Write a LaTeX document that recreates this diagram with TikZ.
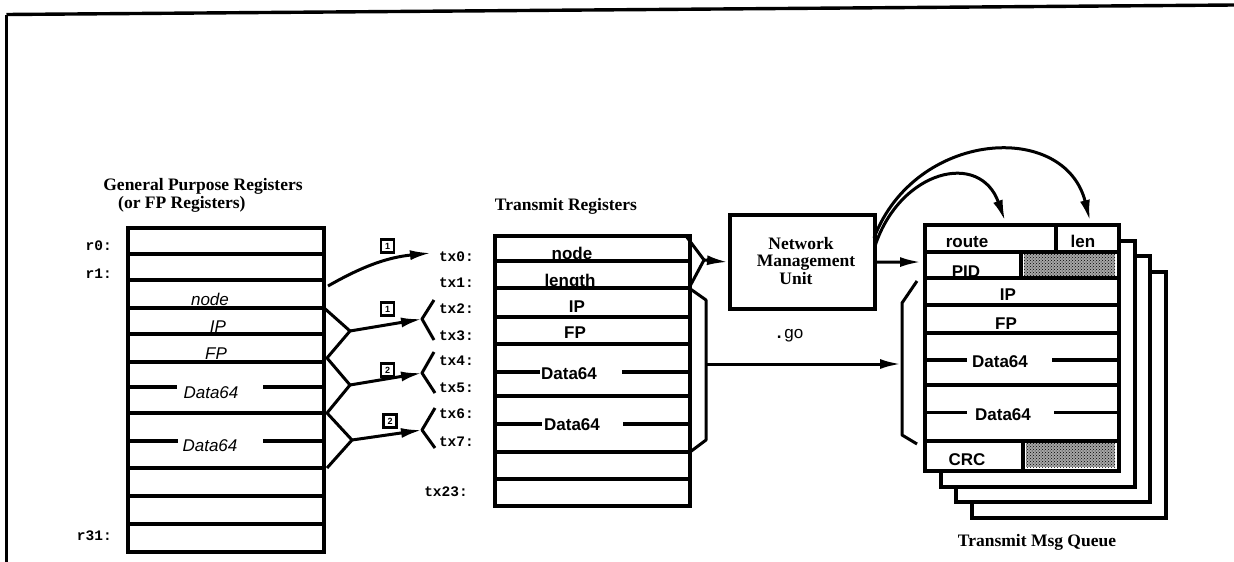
\documentclass[tikz,border=0pt]{standalone}
\usepackage{fontspec}
\setmainfont{Liberation Serif}
\setsansfont{Liberation Sans}
\setmonofont{Liberation Mono}
\usetikzlibrary{arrows.meta,patterns}
\begin{document}
\begin{tikzpicture}[x=1pt,y=-1pt,
 box/.style={draw,line width=4.2pt,inner sep=0pt,anchor=north west,fill=white},
 row/.style={line width=3.4pt},
 conn/.style={line width=3pt,line join=round},
 arr/.style={conn,-{Latex[length=21pt,width=10pt]}},
 lab/.style={font=\fontsize{17}{18}\selectfont\sffamily\bfseries,inner sep=0pt,anchor=base},
 ilab/.style={font=\fontsize{17}{18}\selectfont\sffamily\itshape,inner sep=0pt,anchor=base},
 reg/.style={font=\fontsize{14.5}{15}\selectfont\ttfamily\bfseries,inner sep=0pt,anchor=base east},
 ttl/.style={font=\fontsize{17.5}{19}\selectfont\rmfamily\bfseries,inner sep=0pt,anchor=base},
 num/.style={draw,line width=2.2pt,minimum size=13pt,inner sep=0pt,font=\fontsize{9}{9}\selectfont\sffamily\bfseries},
 hatch/.style={pattern=crosshatch dots,pattern color=black},
]
\useasboundingbox (0,0) rectangle (1234,562);
\fill[white] (0,0) rectangle (1234,562);
% frame
\coordinate (fa) at (6.5,562); \coordinate (fb) at (6.5,14.5); \coordinate (fc) at (1234,5);
\draw[line width=2.4pt] (fa) -- (fb);
\draw[line width=3.4pt] (fb) -- (fc);

% ---------------- General purpose registers ----------------
\node[ttl] (gt1) at (203,190) {General Purpose Registers};
\node[ttl,anchor=base west] (gt2) at (118,208) {(or FP Registers)};
\node[box,minimum width=196pt,minimum height=324pt] (gpr) at (126,226) {};
\foreach \y in {254,280,308,334,362,413,468,496,524} \draw[row] (126,\y) -- (322,\y);
\draw[row] (126,387) -- (177,387);  \draw[row] (263,387) -- (322,387);
\draw[row] (126,441) -- (178,441);  \draw[row] (263,441) -- (322,441);
\node[reg] (r0) at (112,250.5) {r0:};
\node[reg] (r1) at (112,278) {r1:};
\node[reg] (r31) at (112,540.5) {r31:};
\node[ilab] (gnode) at (210,305) {node};
\node[ilab] (gip) at (218,332) {IP};
\node[ilab] (gfp) at (216,359) {FP};
\node[ilab] (gd1) at (211,398) {Data64};
\node[ilab] (gd2) at (210,451) {Data64};

% ---------------- Transmit registers ----------------
\node[ttl] (tt) at (566,210) {Transmit Registers};
\node[box,minimum width=195pt,minimum height=270pt] (tx) at (493,234) {};
\foreach \y in {261,288,317,344,396,452,479} \draw[row] (493,\y) -- (688,\y);
\draw[row] (493,372) -- (540,372);  \draw[row] (622,372) -- (688,372);
\draw[row] (493,424) -- (542,424);  \draw[row] (623,424) -- (688,424);
\node[lab] (tnode) at (572,259) {node};
\node[lab] (tlen) at (570,286.5) {length};
\node[lab] (tip) at (577,312) {IP};
\node[lab] (tfp) at (575,338) {FP};
\node[lab] (td1) at (569,379) {Data64};
\node[lab] (td2) at (572,430) {Data64};
\node[reg] (x0) at (474,261.5) {tx0:};
\node[reg] (x1) at (474,287) {tx1:};
\node[reg] (x2) at (474,313) {tx2:};
\node[reg] (x3) at (474,340.5) {tx3:};
\node[reg] (x4) at (474,365) {tx4:};
\node[reg] (x5) at (474,392.5) {tx5:};
\node[reg] (x6) at (474,418) {tx6:};
\node[reg] (x7) at (474,446) {tx7:};
\node[reg] (x23) at (468,496.5) {tx23:};

% ---------------- GPR -> TX connectors ----------------
\coordinate (a0) at (328,286); \coordinate (t0) at (431,253);
\draw[arr] (a0) to[bend left=12] (t0);
\node[num] (n1) at (387.5,246) {1};

\coordinate (z1) at (323,307); \coordinate (j1) at (350,331);
\coordinate (z2) at (327,358); \coordinate (j2) at (350,385);
\coordinate (z3) at (327,413); \coordinate (j3) at (352,440);
\coordinate (z4) at (327,468);
\draw[conn] (z1) -- (j1) -- (z2) -- (j2) -- (z3) -- (j3) -- (z4);

\coordinate (k1) at (422,319); \coordinate (u1) at (434,300); \coordinate (l1) at (434,340);
\coordinate (k2) at (422,373); \coordinate (u2) at (434,352); \coordinate (l2) at (435,393);
\coordinate (k3) at (422,430); \coordinate (u3) at (435,408); \coordinate (l3) at (435,448);
\draw[conn] (u1) -- (k1) -- (l1);
\draw[conn] (u2) -- (k2) -- (l2);
\draw[conn] (u3) -- (k3) -- (l3);
\draw[arr] (j1) -- (k1);
\draw[arr] (j2) -- (k2);
\draw[arr] (j3) -- (k3);
\node[num] (n2) at (387.5,309) {1};
\node[num] (n3) at (387.5,370) {2};
\node[num] (n4) at (390,421) {2};

% ---------------- Network Management Unit ----------------
\node[box,minimum width=145pt,minimum height=94pt] (nmu) at (728,213) {};
\node[ttl] (nm1) at (801,249) {Network};
\node[ttl] (nm2) at (806,266.5) {Management};
\node[ttl] (nm3) at (796,284) {Unit};
\node[font=\fontsize{17}{18}\selectfont\sffamily,inner sep=0pt,anchor=base] (go) at (790,338) {{\bfseries.}\,go};

% TX -> NMU fork and bracket
\coordinate (m1) at (686,236); \coordinate (m0) at (704,260); \coordinate (m2) at (689,288);
\coordinate (b1) at (706,300); \coordinate (b2) at (706,440); \coordinate (b3) at (690,452);
\coordinate (bm) at (706,364);
\draw[conn] (m1) -- (m0) -- (m2) -- (b1) -- (b2) -- (b3);
\draw[arr] (m0) -- (nmu.west);

% ---------------- Transmit Msg Queue ----------------
\node[box,minimum width=194pt,minimum height=246pt] (q4) at (969.5,269.5) {};
\node[box,minimum width=194pt,minimum height=246pt] (q3) at (954,254) {};
\node[box,minimum width=194pt,minimum height=246pt] (q2) at (938.5,238.5) {};
\node[box,minimum width=194pt,minimum height=246pt] (q1) at (923,223) {};
\fill[black!35] (1024,254) rectangle (1115,277);
\fill[black!35] (1026,443) rectangle (1115,467);
\fill[hatch] (1024,254) rectangle (1115,277);
\fill[hatch] (1026,443) rectangle (1115,467);
\foreach \y in {252,278,305,333,385,441} \draw[row] (923,\y) -- (1117,\y);
\draw[row] (1056,223) -- (1056,252);
\draw[row] (1021,252) -- (1021,278);
\draw[row] (1023,441) -- (1023,469);
\draw[row] (923,360) -- (967,360);  \draw[row] (1052,360) -- (1117,360);
\draw[row] (923,412.5) -- (967,412.5);  \draw[row] (1054,412.5) -- (1117,412.5);
\node[lab] (qroute) at (967,247) {route};
\node[lab] (qlen) at (1083,247) {len};
\node[lab] (qpid) at (966,277) {PID};
\node[lab] (qip) at (1008,300.5) {IP};
\node[lab] (qfp) at (1006,329) {FP};
\node[lab] (qd1) at (1000,367) {Data64};
\node[lab] (qd2) at (1003,420.5) {Data64};
\node[lab] (qcrc) at (967,465) {CRC};
\node[ttl] (qt) at (1037,546.5) {Transmit Msg Queue};

% queue-side bracket
\coordinate (p1) at (917,281); \coordinate (p2) at (902,303);
\coordinate (p3) at (902,435); \coordinate (p4) at (917,444);
\coordinate (c0) at (901,364);
\draw[conn] (p1) -- (p2) -- (p3) -- (p4);
\draw[arr] (bm) -- (c0);

% NMU -> queue
\coordinate (qin) at (921,262);
\draw[arr] (nmu.east) -- (qin);
\coordinate (s1) at (874,238); \coordinate (s2) at (875,246);
\coordinate (e1) at (1090,221); \coordinate (e2) at (1005,221);
\draw[arr] (s1) .. controls (915,130) and (1065,120) .. (e1);
\draw[arr] (s2) .. controls (900,170) and (980,150) .. (e2);
\end{tikzpicture}
\end{document}
